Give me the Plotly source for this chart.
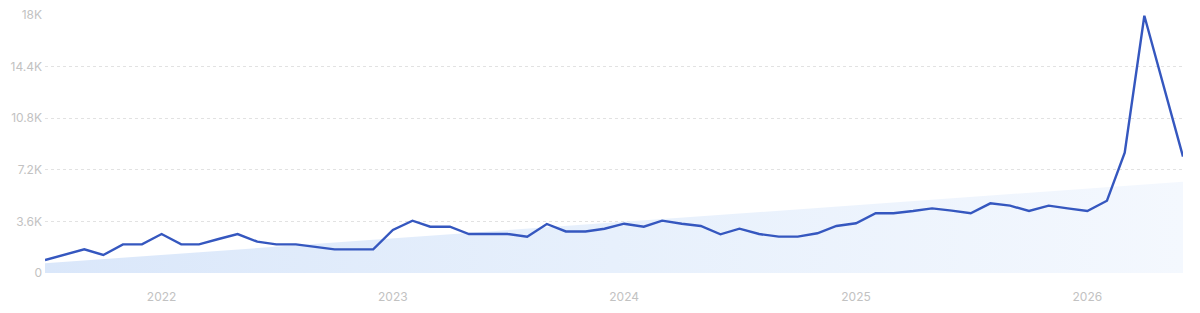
import plotly.graph_objects as go
import pandas as pd

# Monthly values, Jul 2021 .. Jun 2026
months = pd.date_range("2021-07-01", "2026-06-01", freq="MS")
values = [
    907, 1280, 1650, 1256, 2000, 2000,          # Jul-Dec 2021
    2720, 2000, 2000, 2370, 2720, 2185,         # Jan-Jun 2022
    2000, 2000, 1835, 1650, 1650, 1650,         # Jul-Dec 2022
    3000, 3650, 3230, 3230, 2720, 2720,         # Jan-Jun 2023
    2720, 2535, 3420, 2900, 2900, 3090,         # Jul-Dec 2023
    3440, 3230, 3650, 3440, 3280, 2700,         # Jan-Jun 2024
    3090, 2720, 2535, 2535, 2770, 3280,         # Jul-Dec 2024
    3470, 4165, 4165, 4325, 4510, 4350,         # Jan-Jun 2025
    4165, 4860, 4700, 4325, 4700, 4510,         # Jul-Dec 2025
    4325, 5045, 8390, 17950, 13050, 8120,       # Jan-Jun 2026
]

# Trend band (start and end of the shaded trend)
trend_x = [months[0], months[-1]]
trend_y = [676, 6370]

year_ticks = ["2022-01-01", "2023-01-01", "2024-01-01", "2025-01-01", "2026-01-01"]
year_labels = ["2022", "2023", "2024", "2025", "2026"]
y_ticks = [0, 3600, 7200, 10800, 14400, 18000]
y_labels = ["0", "3.6K", "7.2K", "10.8K", "14.4K", "18K"]

fig = go.Figure()
fig.add_trace(go.Scatter(
    x=trend_x, y=trend_y, mode="lines", line=dict(width=0),
    fill="tozeroy",
    fillgradient=dict(type="horizontal",
                      colorscale=[[0, "rgb(218,231,250)"], [0.5, "rgb(231,240,252)"], [1, "rgb(244,248,254)"]]),
    hoverinfo="skip", showlegend=False,
))
fig.add_trace(go.Scatter(
    x=months, y=values, mode="lines",
    line=dict(color="#3557bf", width=2.4),
    showlegend=False,
))

fig.update_layout(
    width=1200, height=313,
    margin=dict(l=45, r=17, t=15, b=40, autoexpand=False),
    plot_bgcolor="white", paper_bgcolor="white",
    font=dict(family="Inter, Roboto, sans-serif", size=12, color="#c2c2c2"),
    xaxis=dict(
        range=[months[0], months[-1]], automargin=False,
        tickvals=year_ticks, ticktext=year_labels,
        showgrid=False, zeroline=False, showline=False, ticks="",
        ticklabelstandoff=15,
        tickfont=dict(size=12, color="#c2c2c2"),
    ),
    yaxis=dict(
        range=[0, 18000], automargin=False,
        tickvals=y_ticks, ticktext=y_labels,
        showgrid=True, gridcolor="#e2e2e2", griddash="dot", gridwidth=1,
        zeroline=False, showline=False, ticks="",
        ticklabelstandoff=2,
        tickfont=dict(size=12, color="#c2c2c2"),
    ),
)

fig.write_html("out.html")
